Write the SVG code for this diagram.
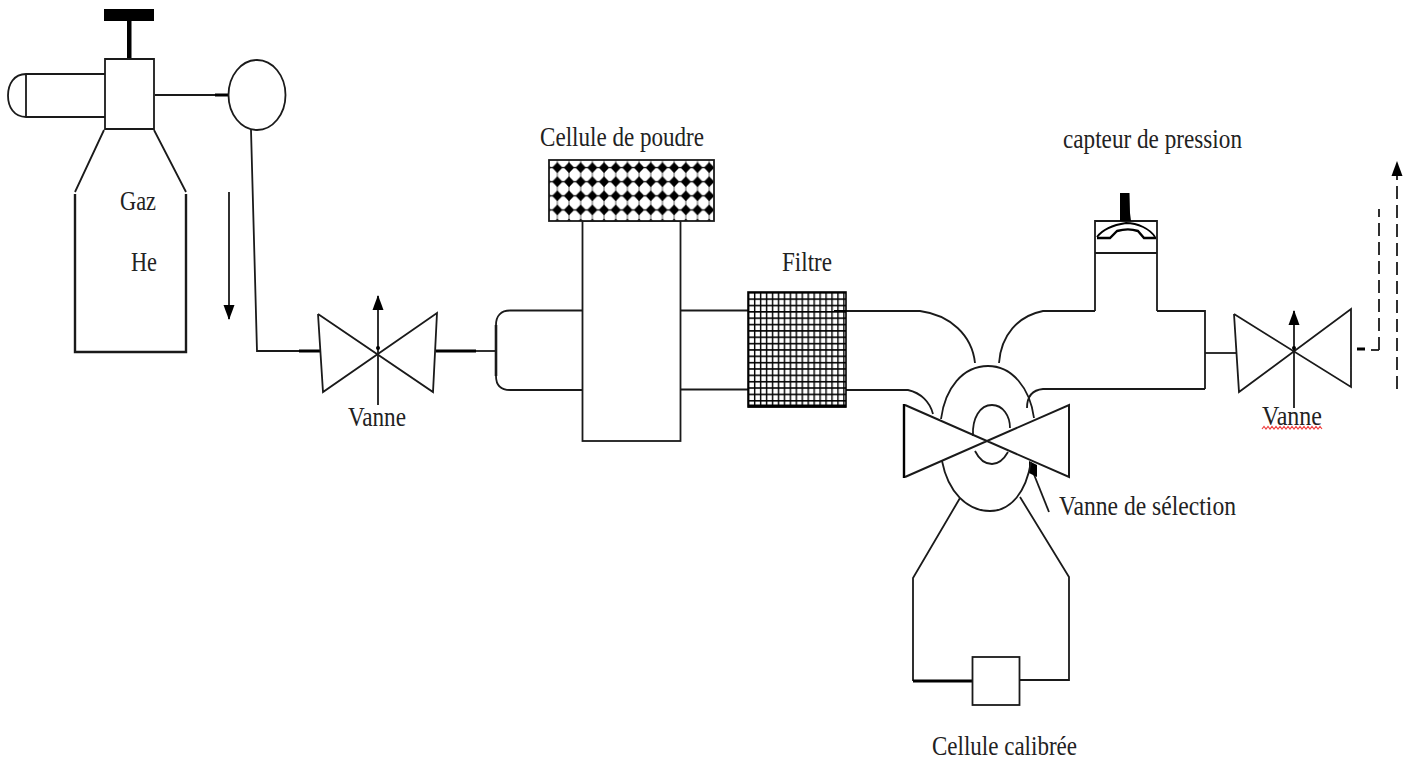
<svg xmlns="http://www.w3.org/2000/svg" width="1412" height="762" viewBox="0 0 1412 762">
<style>
.s{fill:none;stroke:#1a1a1a;stroke-width:1.8}
.w{fill:#fff;stroke:#1a1a1a;stroke-width:1.8}
.t{fill:none;stroke:#000;stroke-width:3}
.k{fill:#000}
.d{fill:none;stroke:#1a1a1a;stroke-width:1.8;stroke-dasharray:13 6}
text{font-family:"Liberation Serif","Times New Roman",serif;font-size:27px;fill:#222}
</style>
<defs>
<pattern id="dia" patternUnits="userSpaceOnUse" x="551.5" y="160.6" width="11.68" height="14.1">
<rect width="11.68" height="14.1" fill="#fff"/>
<path d="M5.84 1.6L11 7.05L5.84 12.5L0.68 7.05Z" fill="#000"/>
<path d="M0 7.05H11.68" stroke="#000" stroke-width="1.2"/>
<path d="M5.84 0V14.1" stroke="#000" stroke-width="0.6"/>
</pattern>
<pattern id="grid" patternUnits="userSpaceOnUse" x="748" y="292" width="5.95" height="6.35">
<rect width="5.95" height="6.35" fill="#fff"/>
<path d="M0.7 0V6.35M0 0.8H5.95" stroke="#000" stroke-width="1.45"/>
</pattern>
<marker id="ah" markerUnits="userSpaceOnUse" markerWidth="15" markerHeight="12" refX="14" refY="5.5" orient="auto" viewBox="0 0 15 11"><path d="M15 5.5L0 0V11Z" fill="#000"/></marker>
</defs>
<rect width="1412" height="762" fill="#fff"/>

<g id="connectors">
<path class="s" d="M155 95H229"/><path class="t" d="M215 95H229"/>
<path class="s" d="M251 130L257 351H299"/><path class="t" d="M299 351H320"/>
<path class="t" d="M436 351H476"/><path class="s" d="M476 351H496"/>
<path class="s" d="M680 310.500H748M680 389.500H748"/>
<path class="s" d="M846 311H920C950 315 972 335 975 363"/>
<path class="s" d="M846 390H908C921 393 930 402 933 414"/>
<path class="s" d="M999 363C1001 335 1018 316 1043 311H1095"/>
<path class="s" d="M1205 389H1043C1032 390 1027 396 1027 408"/>
<path class="s" d="M1205 353H1236"/>
<path class="s" d="M960 498L913 578V681"/><path class="t" d="M913 681H972"/>
<path class="s" d="M1019 680H1069V577L1020 497"/>
<path class="s" d="M1371 350H1379"/>
<path class="d" d="M1379 350V209"/>
<path class="t" d="M1357 349H1365"/>
<path class="d" d="M1397 389V162" marker-end="url(#ah)"/>
<path class="s" d="M229 192V319" marker-end="url(#ah)"/>
<path class="s" d="M1049 512L1033 472"/>
<path class="k" d="M1029 461L1037 465L1037 477L1029 473Z"/>
</g>

<g id="cylinder">
<path class="k" d="M104 9H154V21H104ZM127 21H131.500V59H127Z"/>
<path class="s" d="M105 74H26C14 74 8 84 8 95.500C8 107 14 117 26 117H105M26 74V117"/>
<path class="w" d="M105 59H154V129H105Z"/>
<path class="s" d="M104 130L75 192M154 130L186 192"/>
<path class="s" style="stroke-width:2.400" d="M75 194V352H186V194"/>
<text x="120" y="210" textLength="36" lengthAdjust="spacingAndGlyphs">Gaz</text>
<text x="131" y="271" textLength="26" lengthAdjust="spacingAndGlyphs">He</text>
</g>

<g id="regulator"><ellipse class="w" cx="257" cy="95" rx="28.500" ry="35"/></g>

<g id="vanne-1">
<path class="s" d="M318 314L323 392L437 313L433 392L318 314"/>
<path class="s" d="M378 405V296" marker-end="url(#ah)"/>
<circle class="k" cx="378" cy="348" r="2"/>
<text x="348" y="426" textLength="58" lengthAdjust="spacingAndGlyphs">Vanne</text>
</g>

<g id="cellule-de-poudre">
<path class="s" d="M582 310.500H510C501 310.500 496 316 496 325V376C496 385 501 390 510 390H582"/>
<path class="s" style="stroke-width:2.600" d="M496 325V376"/>
<rect class="w" x="582.500" y="221" width="98" height="220"/>
<rect x="549" y="160" width="165" height="61" fill="url(#dia)" stroke="#1a1a1a" stroke-width="1.800"/>
<text x="540" y="146" textLength="164" lengthAdjust="spacingAndGlyphs">Cellule de poudre</text>
</g>

<g id="filtre">
<rect x="748" y="292" width="98" height="115" fill="url(#grid)" stroke="#000" stroke-width="1.600"/>
<path class="t" d="M748 406H846"/>
<path class="t" d="M834 311H846" style="stroke-width:2"/>
<text x="782" y="271" textLength="50" lengthAdjust="spacingAndGlyphs">Filtre</text>
</g>

<g id="capteur-de-pression">
<path class="s" d="M1095 311V221H1157V311M1095 253H1157M1157 311H1205V389"/>
<path class="k" d="M1120 193H1129.500L1130 213L1131 221H1120L1120 212Z"/>
<path fill="none" stroke="#000" stroke-width="1.800" d="M1097 237C1103 229 1113 225 1126 223C1138 223 1150 229 1155 237"/>
<path fill="none" stroke="#000" stroke-width="2.400" d="M1097 238H1110L1117 231C1124 229 1132 229 1138 231L1144 238H1156"/>
<text x="1063" y="148" textLength="179" lengthAdjust="spacingAndGlyphs">capteur de pression</text>
</g>

<g id="vanne-de-selection">
<path class="s" d="M941 419C945 388 963 366 988 366C1012 366 1030 388 1034 418"/>
<path class="s" d="M942 461C948 492 967 511 990 511C1011 511 1026 492 1031 462"/>
<path class="s" d="M973 436C972 418 980 405 992 405C1003 405 1010 416 1010 428"/>
<path class="s" d="M975 451C979 459 985 464 992 464C999 464 1004 459 1008 452"/>
<path class="s" style="stroke-width:2" d="M905 405L1069 477V405L905 477"/>
<path class="t" d="M904 404V478" style="stroke-width:2.400"/>
<text x="1059" y="515" textLength="177" lengthAdjust="spacingAndGlyphs">Vanne de sélection</text>
</g>

<g id="cellule-calibree">
<rect class="w" x="972.500" y="657" width="47" height="48"/>
<text x="932" y="755" textLength="145" lengthAdjust="spacingAndGlyphs">Cellule calibrée</text>
</g>

<g id="vanne-2">
<path class="s" d="M1234 314L1239 392L1351 309V387L1234 314"/>
<path class="s" d="M1294 408V311" marker-end="url(#ah)"/>
<circle class="k" cx="1294" cy="348" r="2"/>
<text x="1262" y="425" textLength="60" lengthAdjust="spacingAndGlyphs">Vanne</text>
<path fill="none" stroke="#f04040" stroke-width="1.200" d="M1262 429l2 -2.500l2 2.500l2 -2.500l2 2.500l2 -2.500l2 2.500l2 -2.500l2 2.500l2 -2.500l2 2.500l2 -2.500l2 2.500l2 -2.500l2 2.500l2 -2.500l2 2.500l2 -2.500l2 2.500l2 -2.500l2 2.500l2 -2.500l2 2.500l2 -2.500l2 2.500l2 -2.500l2 2.500l2 -2.500l2 2.500l2 -2.500l2 2.500"/>
</g>
</svg>
